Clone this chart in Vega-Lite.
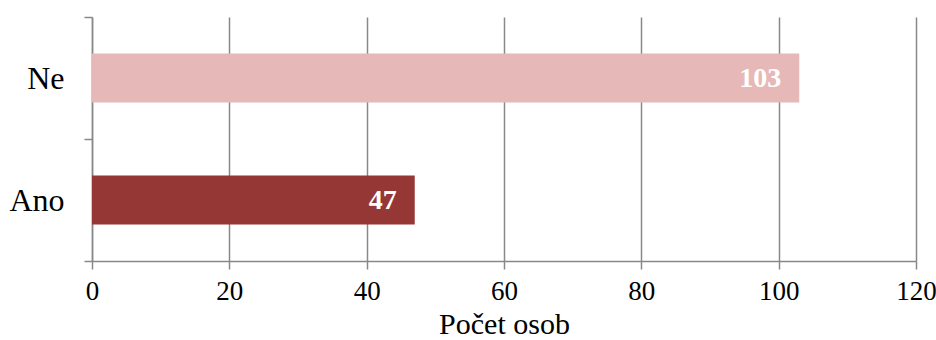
{
  "$schema": "https://vega.github.io/schema/vega-lite/v6.json",
  "width": 824,
  "height": 244,
  "autosize": "none",
  "padding": {"left": 92, "top": 17, "right": 20, "bottom": 79},
  "background": "white",
  "config": {"view": {"stroke": null}, "font": "Liberation Serif"},
  "data": {"values": [
    {"odpoved": "Ne", "pocet": 103},
    {"odpoved": "Ano", "pocet": 47}
  ]},
  "encoding": {
    "y": {"field": "odpoved", "type": "nominal", "sort": ["Ne", "Ano"],
      "scale": {"paddingInner": 0, "paddingOuter": 0},
      "axis": {"title": null, "tickBand": "extent", "grid": false, "domainColor": "#888888", "domainWidth": 1.5,
        "tickColor": "#888888", "tickWidth": 1.5, "tickSize": 8, "labelPadding": 20,
        "labelFont": "Liberation Serif", "labelFontSize": 32, "labelColor": "#000000"}},
    "x": {"field": "pocet", "type": "quantitative",
      "scale": {"domain": [0, 120], "nice": false},
      "axis": {"title": "Počet osob", "values": [0, 20, 40, 60, 80, 100, 120], "grid": true,
        "gridColor": "#888888", "gridWidth": 1.5, "domainColor": "#888888", "domainWidth": 1.5,
        "tickColor": "#888888", "tickWidth": 1.5, "tickSize": 8, "labelPadding": 9, "labelFlush": false,
        "labelFont": "Liberation Serif", "labelFontSize": 27, "labelColor": "#000000",
        "titleFont": "Liberation Serif", "titleFontSize": 30, "titleFontWeight": "normal",
        "titleColor": "#000000", "titlePadding": 5}}
  },
  "layer": [
    {"mark": {"type": "bar", "height": {"band": 0.4}},
     "encoding": {"color": {"field": "odpoved", "type": "nominal",
       "scale": {"domain": ["Ne", "Ano"], "range": ["#E6B9B8", "#953735"]}, "legend": null}}},
    {"mark": {"type": "text", "align": "right", "baseline": "middle", "dx": -18, "dy": 1,
      "font": "Liberation Serif", "fontSize": 28, "fontWeight": "bold", "color": "white"},
     "encoding": {"text": {"field": "pocet", "type": "quantitative"}}}
  ]
}
